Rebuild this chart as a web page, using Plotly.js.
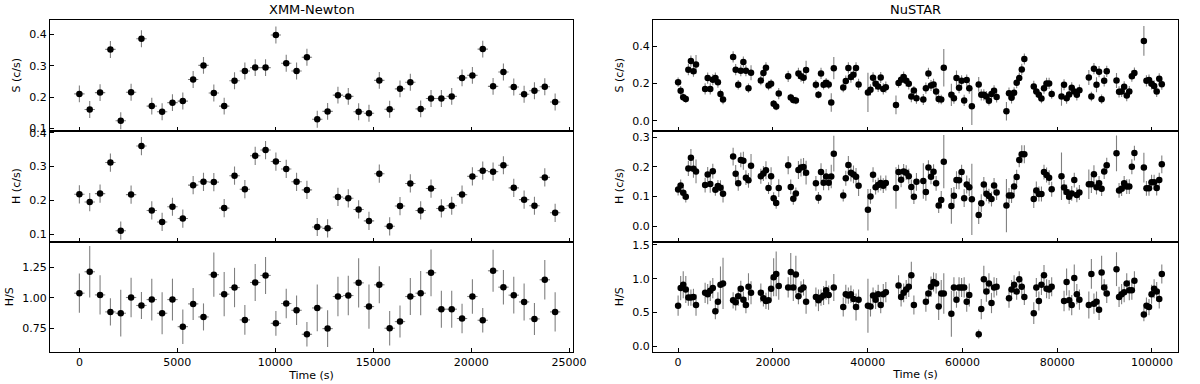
<!DOCTYPE html>
<html>
<head>
<meta charset="utf-8">
<script src="https://cdn.plot.ly/plotly-3.0.1.min.js"></script>
<style>
  body { margin: 0; background: #fff; }
  #chart { width: 1200px; height: 384px; }
</style>
</head>
<body>
<div id="chart"></div>
<script>
// ---- XMM-Newton light curve (528 s bins) ----
const xmmTime = [0, 528, 1056, 1584, 2112, 2640, 3168, 3696, 4224, 4752, 5280, 5808, 6336, 6864, 7392, 7920,
    8448, 8976, 9504, 10032, 10560, 11088, 11616, 12144, 12672, 13200, 13728, 14256, 14784, 15312, 15840, 16368,
    16896, 17424, 17952, 18480, 19008, 19536, 20064, 20592, 21120, 21648, 22176, 22704, 23232, 23760, 24288];
const xmmS = [0.210, 0.160, 0.214, 0.352, 0.124, 0.215, 0.386, 0.171, 0.153, 0.182, 0.187, 0.256, 0.301, 0.213,
    0.171, 0.252, 0.283, 0.294, 0.294, 0.398, 0.308, 0.283, 0.327, 0.129, 0.154, 0.206, 0.202, 0.153, 0.148, 0.253,
    0.161, 0.226, 0.247, 0.162, 0.195, 0.195, 0.202, 0.261, 0.269, 0.353, 0.234, 0.280, 0.232, 0.209, 0.220, 0.233, 0.184];
const xmmH = [0.218, 0.195, 0.220, 0.312, 0.110, 0.217, 0.361, 0.170, 0.136, 0.181, 0.146, 0.245, 0.255, 0.254,
    0.177, 0.273, 0.233, 0.332, 0.349, 0.315, 0.293, 0.255, 0.231, 0.121, 0.117, 0.210, 0.206, 0.173, 0.139, 0.279,
    0.123, 0.183, 0.250, 0.170, 0.235, 0.176, 0.184, 0.217, 0.271, 0.288, 0.285, 0.304, 0.237, 0.202, 0.184, 0.268, 0.163];
const xmmHS = [1.038, 1.212, 1.024, 0.886, 0.875, 1.003, 0.938, 0.986, 0.875, 0.986, 0.766, 0.951, 0.845, 1.188,
    1.030, 1.084, 0.821, 1.125, 1.182, 0.793, 0.954, 0.899, 0.704, 0.918, 0.750, 1.011, 1.019, 1.122, 0.929, 1.106,
    0.753, 0.807, 1.011, 1.038, 1.204, 0.908, 0.908, 0.832, 1.011, 0.818, 1.220, 1.087, 1.022, 0.967, 0.829, 1.147, 0.886];
const xmmHSErr = [0.16, 0.21, 0.16, 0.11, 0.19, 0.16, 0.11, 0.17, 0.17, 0.17, 0.14, 0.13, 0.11, 0.18, 0.18, 0.16,
    0.12, 0.15, 0.15, 0.10, 0.12, 0.12, 0.10, 0.19, 0.15, 0.16, 0.16, 0.20, 0.18, 0.15, 0.14, 0.13, 0.15, 0.18,
    0.19, 0.15, 0.15, 0.12, 0.14, 0.10, 0.17, 0.14, 0.15, 0.15, 0.13, 0.16, 0.16];
const xmmRateErr = 0.027;
const xmmHalfBin = 264;

// ---- NuSTAR light curve (one line per orbit) ----
const nuTime = [
    0, 540, 1080, 1620, 2160, 2700, 3240, 3780,
    5700, 6240, 6780, 7320, 7860, 8400, 8940, 9480,
    11610, 12150, 12690, 13230, 13770, 14310, 14850, 15390,
    17460, 18000, 18540, 19080, 19620, 20160, 20700, 21240,
    23230, 23770, 24310, 24850, 25390, 25930, 26470, 27010,
    29080, 29620, 30160, 30700, 31240, 31780, 32320, 32860,
    34850, 35390, 35930, 36470, 37010, 37550, 38090,
    40060, 40600, 41140, 41680, 42220, 42760, 43300, 43840,
    45980, 46520, 47060, 47600, 48140, 48680, 49220, 49760, 50300,
    51750, 52290, 52830, 53370, 53910, 54450, 54990, 55530, 56070,
    57670, 58210, 58750, 59290, 59830, 60370, 60910, 61450, 61990,
    63440, 63980, 64520, 65060, 65600, 66140, 66680, 67220,
    69290, 69830, 70370, 70910, 71450, 71990, 72530, 73070,
    75060, 75600, 76140, 76680, 77220, 77760, 78300, 78840,
    80910, 81450, 81990, 82530, 83070, 83610, 84150, 84690,
    86680, 87220, 87760, 88300, 88840, 89380, 89920, 90460,
    92520, 93060, 93600, 94140, 94680, 95220, 95760, 96300,
    98300, 98840, 99380, 99920, 100460, 101000, 101540, 102080];
const nuS = [
    0.207, 0.161, 0.126, 0.117, 0.274, 0.320, 0.266, 0.302,
    0.171, 0.229, 0.171, 0.220, 0.229, 0.207, 0.143, 0.114,
    0.342, 0.274, 0.193, 0.268, 0.315, 0.268, 0.175, 0.257,
    0.216, 0.256, 0.284, 0.189, 0.198, 0.091, 0.076, 0.146,
    0.238, 0.125, 0.112, 0.109, 0.254, 0.239, 0.230, 0.272,
    0.193, 0.139, 0.254, 0.193, 0.204, 0.195, 0.098, 0.282,
    0.178, 0.213, 0.283, 0.234, 0.247, 0.283, 0.195,
    0.152, 0.166, 0.230, 0.198, 0.184, 0.232, 0.171, 0.180,
    0.085, 0.202, 0.220, 0.234, 0.214, 0.198, 0.130, 0.162, 0.121,
    0.114, 0.175, 0.254, 0.189, 0.195, 0.157, 0.117, 0.114, 0.284,
    0.139, 0.121, 0.229, 0.177, 0.214, 0.109, 0.218, 0.175, 0.078,
    0.195, 0.139, 0.139, 0.130, 0.107, 0.143, 0.161, 0.128,
    0.051, 0.148, 0.123, 0.150, 0.204, 0.229, 0.275, 0.331,
    0.184, 0.157, 0.139, 0.119, 0.175, 0.200, 0.200, 0.143,
    0.130, 0.193, 0.121, 0.141, 0.177, 0.157, 0.139, 0.164,
    0.232, 0.130, 0.279, 0.193, 0.263, 0.116, 0.214, 0.265,
    0.216, 0.155, 0.157, 0.182, 0.135, 0.157, 0.239, 0.256,
    0.428, 0.214, 0.218, 0.198, 0.187, 0.157, 0.225, 0.196];
const nuSErr = [
    0.025, 0.025, 0.02, 0.02, 0.03, 0.03, 0.03, 0.05,
    0.03, 0.03, 0.03, 0.03, 0.03, 0.03, 0.025, 0.025,
    0.03, 0.03, 0.025, 0.03, 0.03, 0.03, 0.025, 0.04,
    0.025, 0.03, 0.03, 0.025, 0.025, 0.02, 0.02, 0.03,
    0.03, 0.02, 0.02, 0.02, 0.03, 0.03, 0.03, 0.05,
    0.025, 0.02, 0.03, 0.025, 0.025, 0.025, 0.05, 0.06,
    0.025, 0.03, 0.03, 0.03, 0.03, 0.03, 0.03,
    0.105, 0.03, 0.03, 0.03, 0.03, 0.03, 0.03, 0.03,
    0.05, 0.025, 0.03, 0.03, 0.03, 0.03, 0.03, 0.025, 0.03,
    0.03, 0.03, 0.03, 0.03, 0.03, 0.03, 0.025, 0.025, 0.1,
    0.06, 0.03, 0.04, 0.03, 0.03, 0.03, 0.03, 0.03, 0.1,
    0.04, 0.03, 0.03, 0.03, 0.025, 0.03, 0.03, 0.03,
    0.05, 0.03, 0.03, 0.03, 0.03, 0.03, 0.03, 0.03,
    0.03, 0.03, 0.025, 0.025, 0.03, 0.03, 0.03, 0.025,
    0.05, 0.03, 0.03, 0.03, 0.03, 0.025, 0.03, 0.03,
    0.04, 0.025, 0.03, 0.04, 0.03, 0.025, 0.03, 0.03,
    0.04, 0.03, 0.03, 0.03, 0.03, 0.03, 0.03, 0.03,
    0.08, 0.03, 0.03, 0.03, 0.03, 0.03, 0.03, 0.03];
const nuH = [
    0.123, 0.137, 0.112, 0.099, 0.194, 0.230, 0.193, 0.184,
    0.138, 0.174, 0.142, 0.185, 0.122, 0.135, 0.129, 0.109,
    0.234, 0.176, 0.144, 0.223, 0.220, 0.163, 0.154, 0.203,
    0.168, 0.177, 0.188, 0.128, 0.168, 0.094, 0.078, 0.128,
    0.205, 0.132, 0.092, 0.110, 0.189, 0.197, 0.199, 0.180,
    0.144, 0.095, 0.182, 0.146, 0.167, 0.146, 0.167, 0.244,
    0.103, 0.161, 0.206, 0.180, 0.174, 0.166, 0.136,
    0.055, 0.100, 0.173, 0.131, 0.138, 0.145, 0.136, 0.145,
    0.128, 0.182, 0.156, 0.184, 0.180, 0.168, 0.132, 0.099, 0.149,
    0.152, 0.115, 0.197, 0.166, 0.183, 0.144, 0.069, 0.088, 0.217,
    0.068, 0.102, 0.155, 0.154, 0.182, 0.094, 0.140, 0.131, 0.090,
    0.037, 0.077, 0.140, 0.109, 0.101, 0.091, 0.137, 0.113,
    0.069, 0.103, 0.103, 0.133, 0.165, 0.223, 0.242, 0.242,
    0.091, 0.120, 0.108, 0.108, 0.182, 0.172, 0.163, 0.124,
    0.168, 0.130, 0.115, 0.099, 0.110, 0.155, 0.105, 0.113,
    0.141, 0.141, 0.175, 0.131, 0.144, 0.126, 0.184, 0.205,
    0.245, 0.120, 0.126, 0.144, 0.133, 0.133, 0.200, 0.246,
    0.197, 0.127, 0.127, 0.148, 0.148, 0.128, 0.155, 0.208];
const nuHErr = [
    0.02, 0.02, 0.02, 0.02, 0.025, 0.03, 0.03, 0.04,
    0.025, 0.025, 0.03, 0.025, 0.02, 0.02, 0.025, 0.03,
    0.03, 0.03, 0.025, 0.025, 0.03, 0.025, 0.025, 0.04,
    0.025, 0.025, 0.03, 0.02, 0.03, 0.02, 0.02, 0.03,
    0.03, 0.025, 0.02, 0.02, 0.03, 0.03, 0.03, 0.04,
    0.025, 0.02, 0.03, 0.025, 0.025, 0.025, 0.04, 0.06,
    0.02, 0.025, 0.03, 0.03, 0.03, 0.03, 0.035,
    0.07, 0.025, 0.025, 0.025, 0.025, 0.025, 0.025, 0.025,
    0.07, 0.025, 0.025, 0.025, 0.025, 0.025, 0.025, 0.025, 0.03,
    0.06, 0.03, 0.025, 0.025, 0.025, 0.025, 0.025, 0.03, 0.09,
    0.06, 0.03, 0.03, 0.03, 0.025, 0.03, 0.03, 0.03, 0.12,
    0.03, 0.03, 0.025, 0.025, 0.025, 0.025, 0.025, 0.025,
    0.09, 0.025, 0.025, 0.025, 0.025, 0.025, 0.03, 0.03,
    0.03, 0.03, 0.025, 0.025, 0.025, 0.025, 0.025, 0.025,
    0.08, 0.025, 0.025, 0.025, 0.025, 0.025, 0.025, 0.025,
    0.05, 0.03, 0.03, 0.025, 0.025, 0.025, 0.025, 0.025,
    0.06, 0.025, 0.025, 0.025, 0.025, 0.025, 0.025, 0.025,
    0.05, 0.025, 0.025, 0.025, 0.025, 0.025, 0.025, 0.03];
const nuHS = [
    0.60, 0.86, 0.91, 0.84, 0.72, 0.72, 0.73, 0.61,
    0.79, 0.77, 0.82, 0.86, 0.52, 0.66, 0.91, 0.93,
    0.68, 0.65, 0.74, 0.85, 0.69, 0.61, 0.88, 0.79,
    0.79, 0.71, 0.67, 0.68, 0.85, 1.02, 1.07, 0.89,
    0.87, 1.10, 0.87, 1.06, 0.74, 0.84, 0.87, 0.66,
    0.73, 0.68, 0.72, 0.75, 0.83, 0.76, null, 0.87,
    0.58, 0.77, 0.75, 0.77, 0.70, 0.58, 0.69,
    0.60, 0.59, 0.75, 0.69, 0.77, 0.61, 0.77, 0.80,
    null, 0.90, 0.73, 0.79, 0.84, 0.88, 1.05, 0.61, null,
    null, 0.66, 0.78, 0.88, 0.95, 0.93, 0.59, 0.78, 0.78,
    0.48, 0.87, 0.69, 0.87, 0.87, 0.87, 0.66, 0.76, null,
    0.18, 0.55, 0.99, 0.81, 0.93, 0.64, 0.87, 0.88,
    null, 0.71, 0.84, 0.91, 0.81, 0.99, 0.88, 0.73,
    0.49, 0.87, 0.67, 0.91, 1.05, 0.85, 0.84, 0.88,
    null, 0.67, 0.95, 0.68, 0.61, 1.01, 0.77, 0.69,
    0.61, 1.07, 0.63, 0.66, 0.54, 1.09, 0.87, 0.78,
    1.14, 0.73, 0.77, 0.80, 0.93, 0.83, 0.83, 0.97,
    0.47, 0.60, 0.58, 0.77, 0.85, 0.81, 0.70, 1.07];
const nuHSErr = [
    0.15, 0.18, 0.2, 0.2, 0.12, 0.12, 0.12, 0.16,
    0.15, 0.15, 0.15, 0.15, 0.12, 0.14, 0.27, 0.38,
    0.12, 0.12, 0.14, 0.12, 0.12, 0.12, 0.2, 0.17,
    0.14, 0.12, 0.12, 0.14, 0.16, 0.28, 0.33, 0.2,
    0.15, 0.28, 0.2, 0.28, 0.12, 0.12, 0.12, 0.18,
    0.14, 0.16, 0.12, 0.14, 0.14, 0.14, 0.3, 0.2,
    0.14, 0.14, 0.12, 0.13, 0.14, 0.2, 0.15,
    0.4, 0.15, 0.12, 0.14, 0.14, 0.12, 0.15, 0.15,
    0.3, 0.15, 0.14, 0.14, 0.14, 0.15, 0.2, 0.14, 0.25,
    0.3, 0.15, 0.12, 0.15, 0.14, 0.15, 0.2, 0.2, 0.3,
    0.34, 0.15, 0.12, 0.15, 0.14, 0.15, 0.15, 0.17, 0.4,
    0.07, 0.15, 0.2, 0.15, 0.15, 0.15, 0.15, 0.13,
    0.3, 0.14, 0.14, 0.14, 0.12, 0.12, 0.12, 0.12,
    0.16, 0.14, 0.14, 0.15, 0.15, 0.14, 0.14, 0.14,
    0.3, 0.15, 0.2, 0.15, 0.15, 0.2, 0.15, 0.15,
    0.2, 0.22, 0.15, 0.15, 0.15, 0.25, 0.12, 0.14,
    0.25, 0.15, 0.15, 0.15, 0.15, 0.15, 0.14, 0.14,
    0.1, 0.12, 0.12, 0.14, 0.14, 0.14, 0.14, 0.14];

const FONT = 'DejaVu Sans, Liberation Sans, sans-serif';
const ERR_COLOR = '#808080';

function panel(x, y, yErr, axisIdx, xErr) {
    const suffix = axisIdx === 1 ? '' : axisIdx;
    const trace = {
        type: 'scatter',
        mode: 'markers',
        x: x,
        y: y,
        xaxis: 'x' + suffix,
        yaxis: 'y' + suffix,
        marker: { color: '#000', size: 6.5 },
        error_y: typeof yErr === 'number'
            ? { type: 'constant', value: yErr, color: ERR_COLOR, thickness: 1.1, width: 0 }
            : { type: 'data', array: yErr, color: ERR_COLOR, thickness: 1.1, width: 0 },
        hoverinfo: 'skip',
        showlegend: false
    };
    if (xErr) {
        trace.error_x = { type: 'constant', value: xErr, color: ERR_COLOR, thickness: 1.1, width: 0 };
    }
    return trace;
}

const data = [
    panel(xmmTime, xmmS, xmmRateErr, 1, xmmHalfBin),
    panel(xmmTime, xmmH, xmmRateErr, 2, xmmHalfBin),
    panel(xmmTime, xmmHS, xmmHSErr, 3, xmmHalfBin),
    panel(nuTime, nuS, nuSErr, 4),
    panel(nuTime, nuH, nuHErr, 5),
    panel(nuTime, nuHS, nuHSErr, 6)
];

// panel boxes in pixels of the 1200x384 figure
const colX = [[50, 573], [653, 1178]];
const rowY = [[20, 130.5], [130.5, 241.5], [241.5, 352]];
const W = 1200, H = 384;

function xAxis(col, row, range, dtick, anchor) {
    return {
        domain: [colX[col][0] / W, colX[col][1] / W],
        anchor: anchor,
        range: range,
        dtick: dtick,
        tick0: 0,
        tickformat: 'd',
        showticklabels: row === 2,
        ticks: 'inside', ticklen: 4, tickwidth: 1, tickcolor: '#000',
        showline: true, mirror: true, linecolor: '#000', linewidth: 1,
        showgrid: false, zeroline: false,
        tickfont: { family: FONT, size: 11, color: '#000' },
        title: row === 2 ? { text: 'Time (s)', font: { family: FONT, size: 11, color: '#000' }, standoff: 2 } : { text: '' }
    };
}

function yAxis(col, row, range, dtick, fmt, title, anchor) {
    return {
        domain: [1 - rowY[row][1] / H, 1 - rowY[row][0] / H],
        anchor: anchor,
        range: range,
        dtick: dtick,
        tick0: 0,
        tickformat: fmt,
        ticks: 'inside', ticklen: 4, tickwidth: 1, tickcolor: '#000',
        showline: true, mirror: true, linecolor: '#000', linewidth: 1,
        showgrid: false, zeroline: false,
        tickfont: { family: FONT, size: 11, color: '#000' },
        title: { text: title, font: { family: FONT, size: 11, color: '#000' }, standoff: 6 }
    };
}

const xmmRange = [-1500, 25200];
const nuRange = [-5300, 105500];

const layout = {
    width: W,
    height: H,
    margin: { l: 0, r: 0, t: 0, b: 0 },
    paper_bgcolor: '#fff',
    plot_bgcolor: '#fff',
    font: { family: FONT, size: 11, color: '#000' },
    xaxis: xAxis(0, 0, xmmRange, 5000, 'y'),
    xaxis2: xAxis(0, 1, xmmRange, 5000, 'y2'),
    xaxis3: xAxis(0, 2, xmmRange, 5000, 'y3'),
    xaxis4: xAxis(1, 0, nuRange, 20000, 'y4'),
    xaxis5: xAxis(1, 1, nuRange, 20000, 'y5'),
    xaxis6: xAxis(1, 2, nuRange, 20000, 'y6'),
    yaxis: yAxis(0, 0, [0.093, 0.446], 0.1, '.1f', 'S (c/s)', 'x'),
    yaxis2: yAxis(0, 1, [0.078, 0.407], 0.1, '.1f', 'H (c/s)', 'x2'),
    yaxis3: yAxis(0, 2, [0.56, 1.458], 0.25, '.2f', 'H/S', 'x3'),
    yaxis4: yAxis(1, 0, [-0.052, 0.54], 0.2, '.1f', 'S (c/s)', 'x4'),
    yaxis5: yAxis(1, 1, [-0.052, 0.322], 0.1, '.1f', 'H (c/s)', 'x5'),
    yaxis6: yAxis(1, 2, [-0.084, 1.549], 0.5, '.1f', 'H/S', 'x6'),
    annotations: [
        { text: 'XMM-Newton', x: (colX[0][0] + colX[0][1]) / 2 / W, y: 1 - 9 / H,
          xref: 'paper', yref: 'paper', xanchor: 'center', yanchor: 'middle', showarrow: false,
          font: { family: FONT, size: 13, color: '#000' } },
        { text: 'NuSTAR', x: (colX[1][0] + colX[1][1]) / 2 / W, y: 1 - 9 / H,
          xref: 'paper', yref: 'paper', xanchor: 'center', yanchor: 'middle', showarrow: false,
          font: { family: FONT, size: 13, color: '#000' } }
    ]
};

Plotly.newPlot('chart', data, layout, { staticPlot: true, displayModeBar: false });
</script>
</body>
</html>
